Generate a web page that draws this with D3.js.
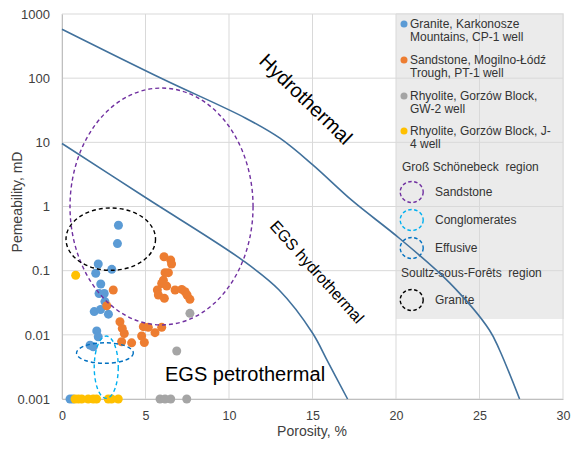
<!DOCTYPE html>
<html>
<head>
<meta charset="utf-8">
<script src="https://cdn.jsdelivr.net/npm/d3@7"></script>
<style>
  body { margin: 0; background: #fff; }
  text { font-family: "Liberation Sans", Arial, sans-serif; white-space: pre; }
</style>
</head>
<body>
<div id="chart"></div>
<script>
// data: [porosity %, permeability mD]
var granite = [[3.38,0.51],[3.32,0.264],[2.17,0.127],[2.98,0.105],[2.02,0.091],[2.32,0.062],
  [2.22,0.044],[2.53,0.044],[2.57,0.033],[1.93,0.023],[2.31,0.0248],[2.78,0.021],
  [2.08,0.0115],[2.17,0.0093],[1.68,0.0069],[1.87,0.0065],[0.48,0.001],[0.65,0.001]];
var sandstone = [[6.11,0.165],[6.51,0.146],[6.56,0.127],[6.17,0.093],[6.37,0.093],[6.07,0.071],
  [5.97,0.063],[6.27,0.0575],[5.71,0.05],[5.77,0.0417],[6.13,0.037],[6.77,0.05],[7.17,0.051],
  [7.37,0.047],[7.49,0.0417],[7.66,0.0357],[3.07,0.05],[2.68,0.0284],[3.47,0.016],[3.61,0.0126],
  [3.73,0.0105],[3.57,0.0078],[4.17,0.0075],[4.87,0.0134],[5.17,0.0131],[5.57,0.0108],
  [5.97,0.0131],[4.77,0.0096],[4.93,0.0076]];
var rhyoliteGW2 = [[7.66,0.0216],[6.87,0.0056],[5.87,0.001],[6.17,0.001],[6.51,0.001],[7.47,0.001]];
var rhyoliteJ4 = [[0.82,0.085],[0.78,0.001],[0.98,0.001],[1.18,0.001],[1.57,0.001],[1.87,0.001],
  [2.07,0.001],[2.77,0.001],[2.97,0.001],[3.37,0.001]];

// boundary curves
var upperCurve = [[0,580],[6,98],[11,23.8],[13.05,11.6],[15,4.5],[17.4,1.22],
  [20.2,0.32],[23.2,0.065],[25.6,0.0118],[26.2,0.0058],[27.4,0.001]];
var lowerCurve = [[0,9.6],[5,1.38],[10.8,0.146],[13,0.05],
  [15,0.0107],[15.9,0.0039],[17.1,0.001]];

// regions: centre porosity, centre permeability, half width (%), half height (decades)
var regionNames = ["Sandstone", "Conglomerates", "Effusive", "Granite"];
var regionCx = [5.96, 2.65, 2.57, 2.92];
var regionCy = [1.0, 0.00313, 0.0052, 0.31];
var regionRx = [5.48, 0.72, 1.7, 2.68];
var regionRy = [1.846, 0.486, 0.16, 0.486];
var regionColors = ["#7030A0", "#00B0F0", "#0070C0", "#000000"];

var seriesNames = [["Granite, Karkonosze", "Mountains, CP-1 well"],
  ["Sandstone, Mogilno-Łódź", "Trough, PT-1 well"],
  ["Rhyolite, Gorzów Block,", "GW-2 well"],
  ["Rhyolite, Gorzów Block, J-", "4 well"]];
var seriesColors = ["#5B9BD5", "#ED7D31", "#A5A5A5", "#FFC000"];

var xTicks = [0, 5, 10, 15, 20, 25, 30];
var yTicks = [0.001, 0.01, 0.1, 1, 10, 100, 1000];
var yTickLabels = ["0.001", "0.01", "0.1", "1", "10", "100", "1000"];

var w = 571, h = 450;
var svg = d3.select("#chart").append("svg").attr("width", w).attr("height", h);

var x = d3.scaleLinear().domain([0, 30]).range([62, 563]);
var y = d3.scaleLog().domain([0.001, 1000]).range([399, 14]);

// legend background (gridlines show through it)
svg.append("rect").attr("x", 396).attr("y", 13).attr("width", 168).attr("height", 306)
  .attr("fill", "#ebebeb");

// grid
svg.append("g").selectAll("line").data(yTicks).enter().append("line")
  .attr("x1", x(0)).attr("x2", x(30)).attr("y1", d => y(d)).attr("y2", d => y(d))
  .attr("stroke", "#d9d9d9").attr("stroke-width", 1);
svg.append("g").selectAll("line").data(xTicks).enter().append("line")
  .attr("x1", d => x(d)).attr("x2", d => x(d)).attr("y1", y(1000)).attr("y2", y(0.001))
  .attr("stroke", "#d9d9d9").attr("stroke-width", 1);

// axes
var xAxis = d3.axisBottom(x).tickValues(xTicks).tickSize(0).tickPadding(12);
var yAxis = d3.axisLeft(y).tickValues(yTicks).tickSize(0).tickPadding(12)
  .tickFormat((d, i) => yTickLabels[i]);
svg.append("g").attr("transform", "translate(0," + y(0.001) + ")").call(xAxis)
  .call(g => g.select(".domain").attr("stroke", "#bfbfbf"))
  .selectAll("text").attr("font-size", 12.5).attr("fill", "#404040");
svg.append("g").attr("transform", "translate(" + x(0) + ",0)").call(yAxis)
  .call(g => g.select(".domain").attr("stroke", "#bfbfbf"))
  .selectAll("text").attr("font-size", 13).attr("fill", "#404040");

svg.append("text").attr("x", 312).attr("y", 436).attr("text-anchor", "middle")
  .attr("font-size", 14).attr("fill", "#404040").text("Porosity, %");
svg.append("text").attr("transform", "translate(22,202) rotate(-90)").attr("text-anchor", "middle")
  .attr("font-size", 14).attr("fill", "#404040").text("Pemeability, mD");

// legend contents
var leg = svg.append("g").attr("font-size", 12).attr("fill", "#333");
var legY = [24, 60, 96, 131];
seriesNames.forEach(function(lines, i) {
  leg.append("circle").attr("cx", 404).attr("cy", legY[i]).attr("r", 3.5).attr("fill", seriesColors[i]);
  lines.forEach(function(t, j) {
    leg.append("text").attr("x", 410).attr("y", legY[i] + j * 13).attr("dy", "0.35em").text(t);
  });
});
leg.append("text").attr("x", 402).attr("y", 167).attr("dy", "0.35em").text("Groß Schönebeck  region");
leg.append("text").attr("x", 401).attr("y", 273).attr("dy", "0.35em").text("Soultz-sous-Forêts  region");
var regLegY = [192, 220, 248, 300];
regionNames.forEach(function(n, i) {
  leg.append("ellipse").attr("cx", 411.7).attr("cy", regLegY[i]).attr("rx", 11.5).attr("ry", 10.5)
    .attr("fill", "none").attr("stroke", regionColors[i]).attr("stroke-width", 1.4)
    .attr("stroke-dasharray", "3.5,2.5");
  leg.append("text").attr("x", 435).attr("y", regLegY[i]).attr("dy", "0.35em").text(n);
});

// boundary curves
var line = d3.line().x(d => x(d[0])).y(d => y(d[1])).curve(d3.curveCatmullRom.alpha(0.5));
[upperCurve, lowerCurve].forEach(function(c) {
  svg.append("path").datum(c).attr("d", line).attr("fill", "none")
    .attr("stroke", "#41719C").attr("stroke-width", 1.6);
});

// points
[granite, sandstone, rhyoliteGW2, rhyoliteJ4].forEach(function(s, i) {
  svg.append("g").selectAll("circle").data(s).enter().append("circle")
    .attr("cx", d => x(d[0])).attr("cy", d => y(d[1])).attr("r", 4.5)
    .attr("fill", seriesColors[i]);
});

// region ellipses
regionNames.forEach(function(n, i) {
  var cx = x(regionCx[i]), cy = y(regionCy[i]);
  svg.append("ellipse").attr("cx", cx).attr("cy", cy)
    .attr("rx", x(regionCx[i] + regionRx[i]) - cx)
    .attr("ry", cy - y(regionCy[i] * Math.pow(10, regionRy[i])))
    .attr("fill", "none").attr("stroke", regionColors[i]).attr("stroke-width", 1.4)
    .attr("stroke-dasharray", "4,3");
});

// zone labels
svg.append("text").attr("transform", "translate(306,99) rotate(44)").attr("text-anchor", "middle")
  .attr("dominant-baseline", "central").attr("font-size", 20).attr("fill", "#000").text("Hydrothermal");
svg.append("text").attr("transform", "translate(317,272) rotate(48)").attr("text-anchor", "middle")
  .attr("dominant-baseline", "central").attr("font-size", 16).attr("fill", "#000").text("EGS hydrothermal");
svg.append("text").attr("x", 165).attr("y", 381).attr("font-size", 20).attr("fill", "#000")
  .text("EGS petrothermal");
</script>
</body>
</html>
